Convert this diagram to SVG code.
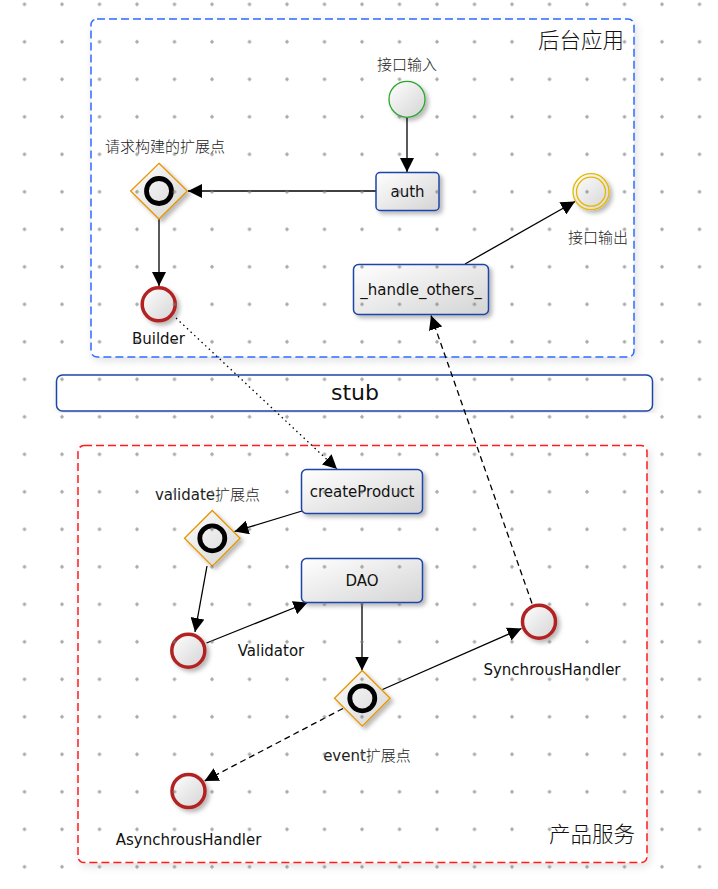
<svg xmlns="http://www.w3.org/2000/svg" width="718" height="889" viewBox="0 0 718 889">
<defs>
<style>
.grp-b{fill:#fff;stroke:#2f6bff;stroke-width:1.5;stroke-dasharray:8 4}
.grp-r{fill:#fff;stroke:#ff1a1a;stroke-width:1.5;stroke-dasharray:8 4}
.task{fill:url(#gf);stroke:#1f45a8;stroke-width:1.5}
.ev-end{fill:url(#gf);stroke:#b22222;stroke-width:3.5}
.gw{fill:url(#gf);stroke:#e69500;stroke-width:1.3}
.gwin{fill:none;stroke:#000;stroke-width:4.8}
.t{font-family:"DejaVu Sans","Noto Sans CJK SC",sans-serif;font-size:15px;fill:#111;text-anchor:middle}
.c{font-family:"Noto Sans CJK SC","DejaVu Sans",sans-serif;font-size:15px;font-weight:300;fill:#222;text-anchor:middle}
.title{font-family:"Noto Sans CJK SC",sans-serif;font-size:21.5px;font-weight:300;fill:#111}
.ln{fill:none;stroke:#000;stroke-width:1.3}
</style>
<linearGradient id="gf" x1="0" y1="0" x2="1" y2="1">
<stop offset="0" stop-color="#ffffff"/>
<stop offset="1" stop-color="#d4d4d4"/>
</linearGradient>
<filter id="sh" x="-30%" y="-30%" width="160%" height="160%">
<feDropShadow dx="3" dy="3" stdDeviation="2" flood-color="#000" flood-opacity="0.28"/>
</filter>
<filter id="gsh" x="-5%" y="-5%" width="110%" height="110%">
<feDropShadow dx="2" dy="3" stdDeviation="4" flood-color="#000" flood-opacity="0.12"/>
</filter>
<marker id="ar" viewBox="0 0 14 14" refX="14" refY="7" markerWidth="14" markerHeight="14" markerUnits="userSpaceOnUse" orient="auto">
<path d="M0,0 L14,7 L0,14 z" fill="#000"/>
</marker>
<pattern id="grid" patternUnits="userSpaceOnUse" x="5.75" y="-14.45" width="37.5" height="37.5">
<path d="M16.75,18.75 H20.75 M18.75,16.75 V20.75" stroke="#7a7a7a" stroke-width="1"/>
</pattern>
</defs>
<rect width="718" height="889" fill="#fff"/>

<g id="group-backend">
<rect class="grp-b" x="91" y="19" width="543" height="338" rx="6" filter="url(#gsh)"/>
<text class="title" x="538" y="48">后台应用</text>
</g>
<g id="group-product">
<rect class="grp-r" x="78" y="445.5" width="569" height="417" rx="6" filter="url(#gsh)"/>
<text class="title" x="549" y="842">产品服务</text>
</g>
<g id="stub">
<rect x="56.5" y="375" width="596" height="36" rx="6" fill="#fff" stroke="#1f45a8" stroke-width="1.5" filter="url(#gsh)"/>
<text class="t" x="355" y="400" style="font-size:22px">stub</text>
</g>

<g id="connectors">
<line class="ln" x1="407" y1="118" x2="407" y2="172" marker-end="url(#ar)"/>
<line class="ln" x1="376" y1="191" x2="188" y2="191" marker-end="url(#ar)"/>
<line class="ln" x1="159" y1="219" x2="159" y2="286" marker-end="url(#ar)"/>
<line class="ln" x1="465" y1="264" x2="575" y2="201.5" marker-end="url(#ar)"/>
<line class="ln" x1="176" y1="318" x2="337" y2="469" stroke-dasharray="1.5 3.5" marker-end="url(#ar)"/>
<line class="ln" x1="302" y1="511" x2="234.5" y2="531.5" marker-end="url(#ar)"/>
<line class="ln" x1="207" y1="566" x2="195" y2="632" marker-end="url(#ar)"/>
<line class="ln" x1="206.5" y1="643" x2="307.5" y2="602.5" marker-end="url(#ar)"/>
<line class="ln" x1="362" y1="603" x2="362" y2="670.5" marker-end="url(#ar)"/>
<line class="ln" x1="382.5" y1="689.5" x2="521.5" y2="628.5" marker-end="url(#ar)"/>
<line class="ln" x1="532" y1="603.5" x2="431" y2="315.5" stroke-dasharray="6 4" marker-end="url(#ar)"/>
<line class="ln" x1="343" y1="708.5" x2="204.5" y2="781" stroke-dasharray="6 4" marker-end="url(#ar)"/>
</g>

<g id="start-input">
<text class="c" x="407" y="70">接口输入</text>
<circle cx="407" cy="99.3" r="18" fill="url(#gf)" stroke="#2aa52a" stroke-width="1.3" filter="url(#sh)"/>
</g>
<g id="auth">
<rect class="task" x="376" y="172.5" width="63" height="38" rx="4" filter="url(#sh)"/>
<text class="t" x="407.5" y="197">auth</text>
</g>
<g id="gw-build">
<text class="c" x="165" y="152">请求构建的扩展点</text>
<path class="gw" d="M159,163.3 L187.3,191 L159,219 L130.7,191 z" filter="url(#sh)"/>
<circle class="gwin" cx="159" cy="191" r="12.5"/>
</g>
<g id="builder">
<circle class="ev-end" cx="158.7" cy="304.3" r="16.5" filter="url(#sh)"/>
<text class="t" x="158.5" y="343.5">Builder</text>
</g>
<g id="end-output">
<circle cx="591" cy="191.7" r="18" fill="url(#gf)" stroke="#e6b800" stroke-width="1.3" filter="url(#sh)"/>
<circle cx="591" cy="191.7" r="14.5" fill="none" stroke="#e6b800" stroke-width="1.3"/>
<text class="c" x="598" y="243">接口输出</text>
</g>
<g id="handle-others">
<rect class="task" x="353.5" y="264.5" width="135" height="50" rx="5" filter="url(#sh)"/>
<text class="t" x="421" y="295">_handle_others_</text>
</g>
<g id="createProduct">
<rect class="task" x="301.5" y="469.5" width="121" height="44" rx="5" filter="url(#sh)"/>
<text class="t" x="362" y="497">createProduct</text>
</g>
<g id="gw-validate">
<text class="c" x="207.5" y="499.5"><tspan font-family="DejaVu Sans" font-weight="400">validate</tspan>扩展点</text>
<path class="gw" d="M212.3,510.5 L240.1,538.3 L212.3,566.1 L184.5,538.3 z" filter="url(#sh)"/>
<circle class="gwin" cx="212.3" cy="538.3" r="12.5"/>
</g>
<g id="validator">
<circle class="ev-end" cx="188.3" cy="650.7" r="16.5" filter="url(#sh)"/>
<text class="t" x="271" y="656">Validator</text>
</g>
<g id="dao">
<rect class="task" x="301.5" y="558.5" width="121" height="44" rx="5" filter="url(#sh)"/>
<text class="t" x="362" y="586">DAO</text>
</g>
<g id="gw-event">
<path class="gw" d="M362.3,670.5 L390.1,698.3 L362.3,726.1 L334.5,698.3 z" filter="url(#sh)"/>
<circle class="gwin" cx="362.3" cy="698.3" r="12.5"/>
<text class="c" x="367" y="761"><tspan font-family="DejaVu Sans" font-weight="400">event</tspan>扩展点</text>
</g>
<g id="sync-handler">
<circle class="ev-end" cx="539" cy="621.7" r="16.5" filter="url(#sh)"/>
<text class="t" x="552" y="675">SynchrousHandler</text>
</g>
<g id="async-handler">
<circle class="ev-end" cx="188.5" cy="791" r="16.5" filter="url(#sh)"/>
<text class="t" x="188.5" y="845">AsynchrousHandler</text>
</g>

<rect width="718" height="889" fill="url(#grid)" opacity="0.85" pointer-events="none"/>
</svg>
